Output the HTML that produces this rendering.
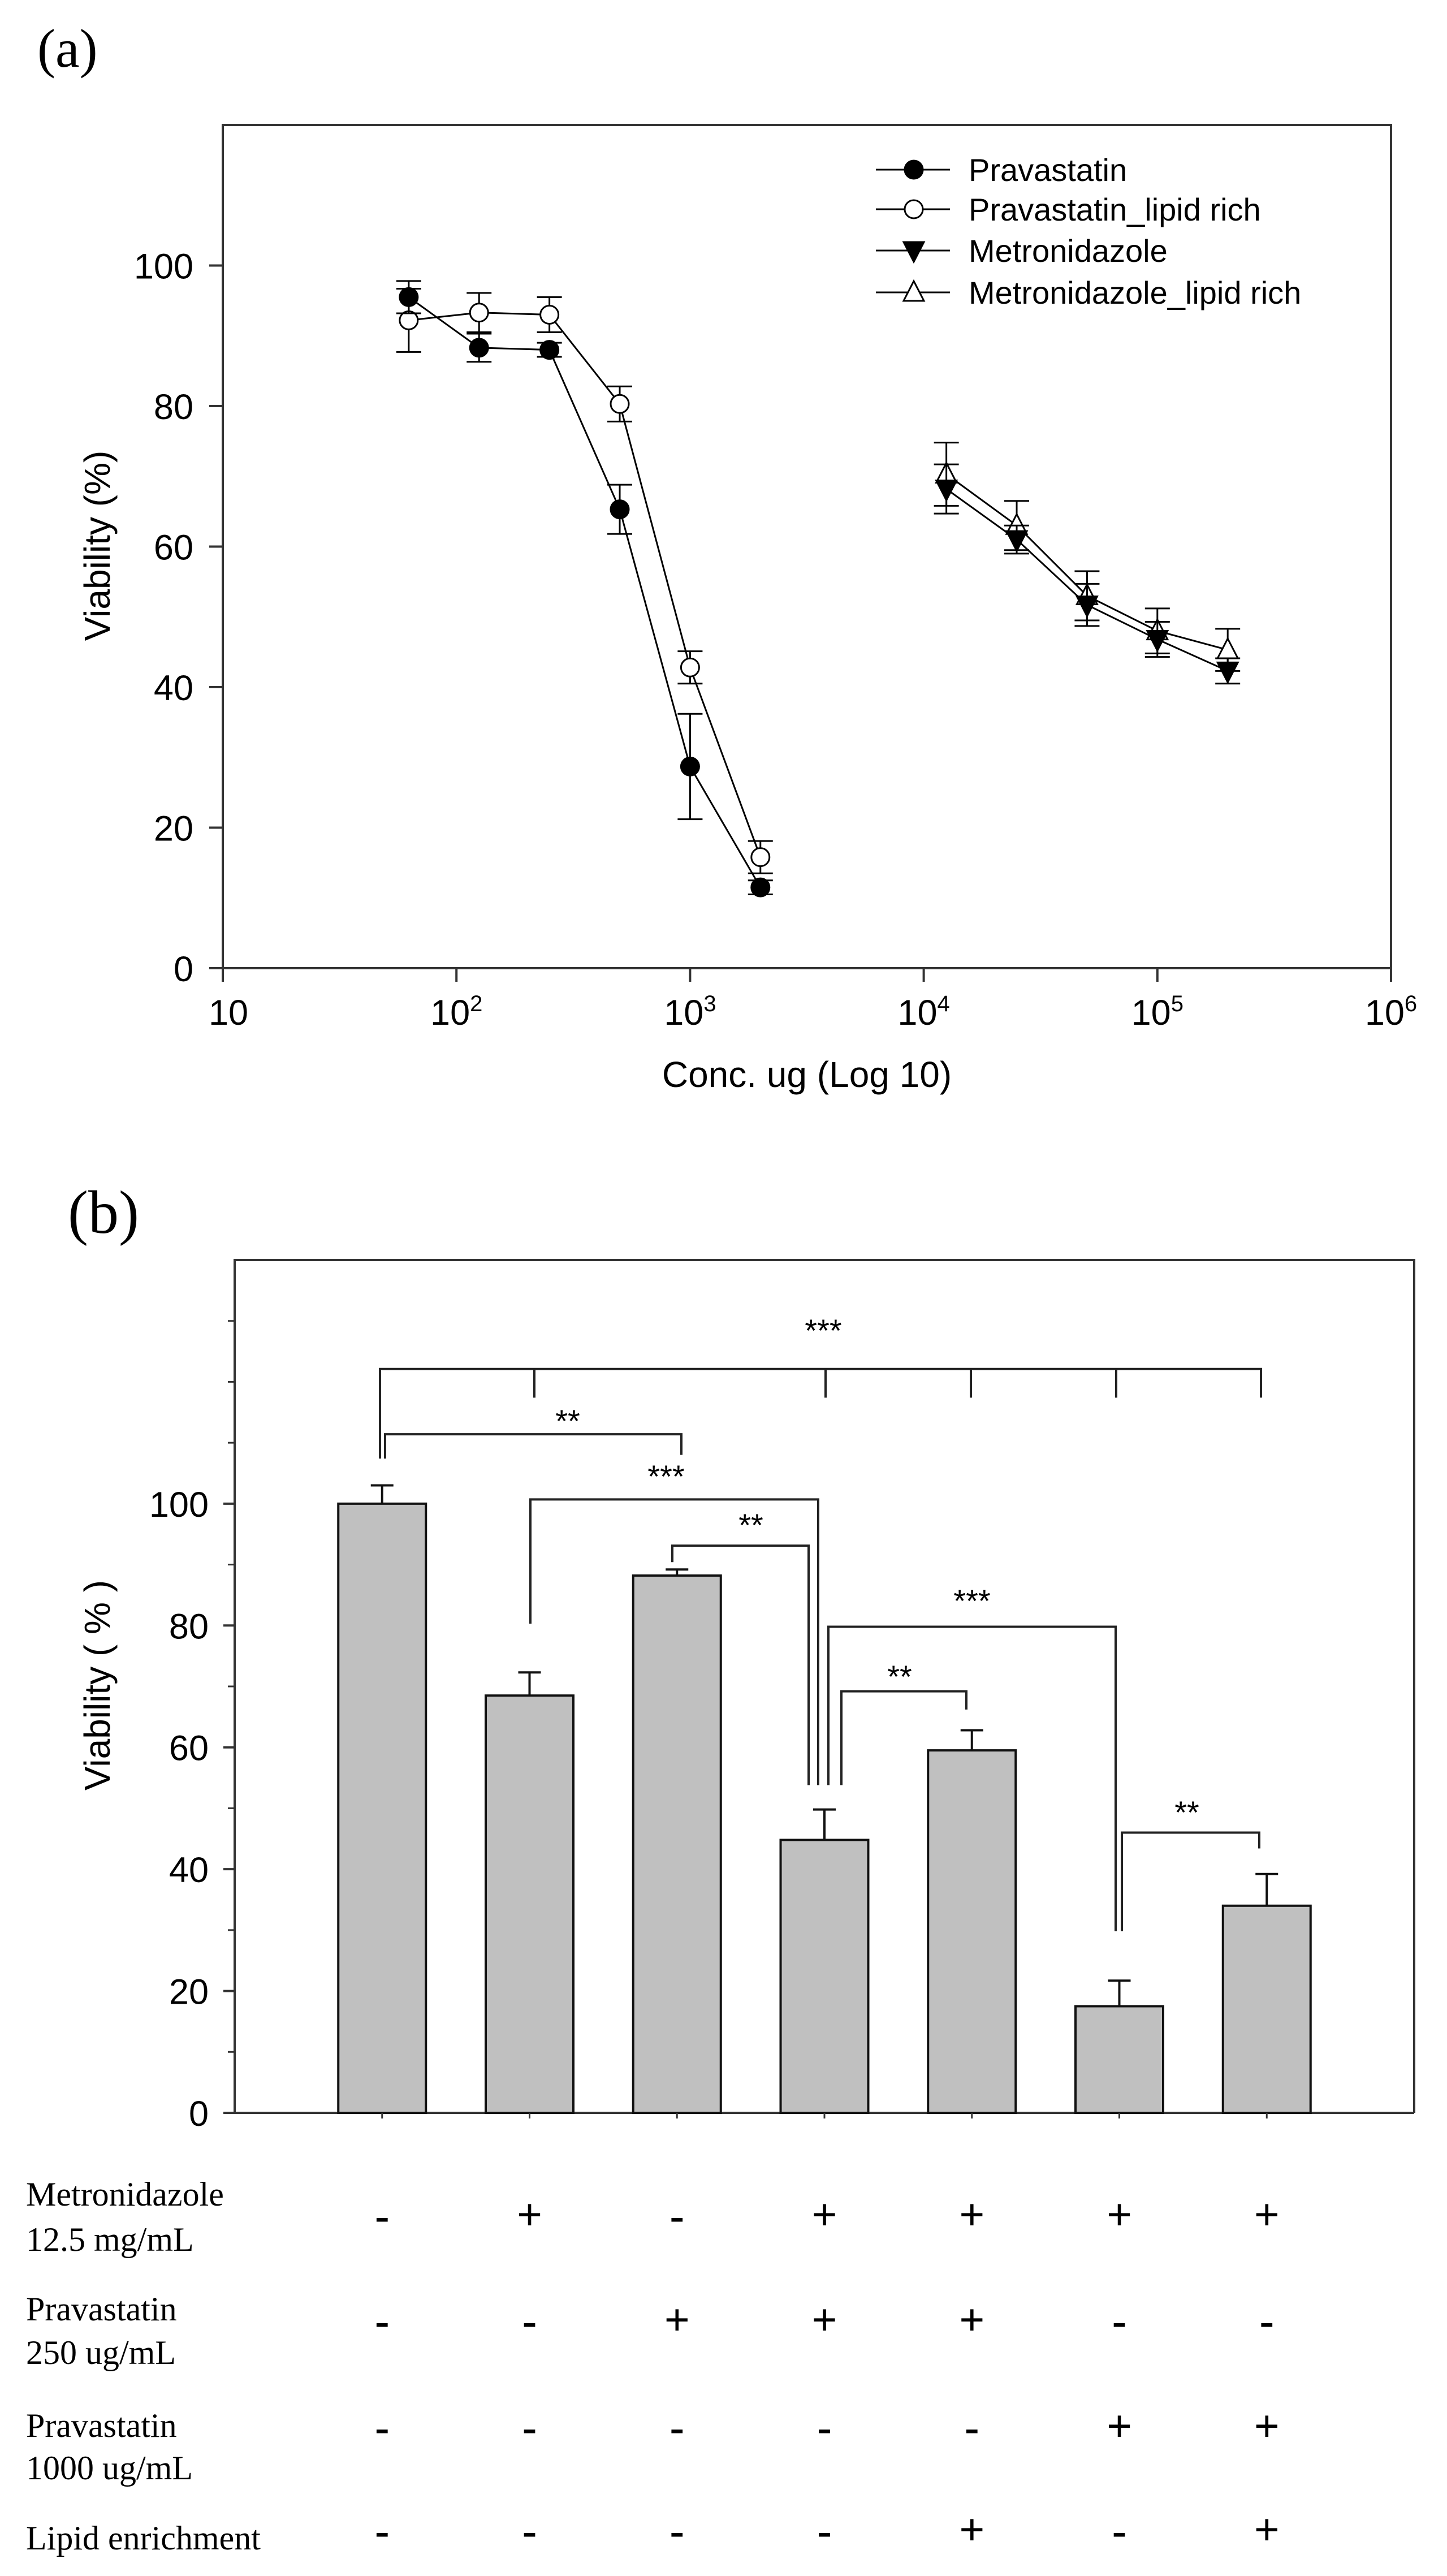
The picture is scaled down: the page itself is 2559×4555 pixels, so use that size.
<!DOCTYPE html>
<html><head><meta charset="utf-8"><style>
html,body{margin:0;padding:0;background:#fff;}
svg{display:block;}
</style></head><body>
<svg id="fig" width="2559" height="4555" viewBox="0 0 2559 4555" xmlns="http://www.w3.org/2000/svg">
<rect width="2559" height="4555" fill="#fff"/>
<text x="66" y="118" font-family="Liberation Serif, serif" font-size="96">(a)</text>
<text x="120" y="2180" font-family="Liberation Serif, serif" font-size="108">(b)</text>
<g id="pa"></g>
<g id="pb"></g>
</svg>
<script>
// ---------- Panel A data ----------
const pravConc = [62.5, 125, 250, 500, 1000, 2000];
const pravVals = [95.5, 88.3, 88.0, 65.3, 28.7, 11.5];
const pravErr = [2.3, 2.0, 1.0, 3.5, 7.5, 1.0];
const pravLipVals = [92.2, 93.3, 93.0, 80.3, 42.8, 15.8];
const pravLipErr = [4.5, 2.8, 2.5, 2.5, 2.3, 2.3];
const metConc = [12500, 25000, 50000, 100000, 200000];
const metVals = [68.2, 61.0, 51.7, 46.8, 42.3];
const metErr = [3.5, 2.0, 3.0, 2.5, 1.8];
const metLipVals = [70.3, 63.0, 53.0, 48.0, 45.3];
const metLipErr = [4.5, 3.5, 3.5, 3.2, 3.0];
const aYTicks = [0, 20, 40, 60, 80, 100];
const aXTicks = [1, 2, 3, 4, 5, 6];
const legendLabels = ["Pravastatin", "Pravastatin_lipid rich", "Metronidazole", "Metronidazole_lipid rich"];

// ---------- Panel B data ----------
const bCats = ["control", "met", "prav250", "met+prav250", "met+prav250+lipid", "met+prav1000", "met+prav1000+lipid"];
const bVals = [100, 68.5, 88.2, 44.8, 59.5, 17.5, 34.0];
const bErr = [3.0, 3.8, 1.0, 5.0, 3.3, 4.2, 5.2];
const bYTicks = [0, 20, 40, 60, 80, 100];
const rowLabels = [["Metronidazole", "12.5 mg/mL"], ["Pravastatin", "250 ug/mL"], ["Pravastatin", "1000 ug/mL"], ["Lipid enrichment"]];
const rowMet = ["-", "+", "-", "+", "+", "+", "+"];
const rowP250 = ["-", "-", "+", "+", "+", "-", "-"];
const rowP1000 = ["-", "-", "-", "-", "-", "+", "+"];
const rowLipid = ["-", "-", "-", "-", "+", "-", "+"];

const NS = "http://www.w3.org/2000/svg";
function mk(parent, tag, attrs, txt) {
  const e = document.createElementNS(NS, tag);
  for (const k in attrs) e.setAttribute(k, attrs[k]);
  if (txt !== undefined) e.textContent = txt;
  parent.appendChild(e);
  return e;
}
const SANS = "Liberation Sans, Arial, sans-serif";
const SERIF = "Liberation Serif, serif";

// ===== Panel A =====
const pa = document.getElementById('pa');
const aL = 394, aR = 2460, aT = 221, aB = 1712;
const ax = v => aL + (Math.log10(v) - 1) / 5 * (aR - aL);
const ay = v => aB - v / 120 * (aB - aT);
let e;
e = mk(pa, 'rect', {x: aL, y: aT, width: aR - aL, height: aB - aT, fill: 'none', stroke: '#333', 'stroke-width': 4});


aYTicks.forEach(t => {
  const y = ay(t);
  e = mk(pa, 'line', {x1: aL - 24, x2: aL, y1: y, y2: y, stroke: '#333', 'stroke-width': 4});
  
  
  e = mk(pa, 'text', {x: aL - 52, y: y + 23, 'text-anchor': 'end', 'font-family': SANS, 'font-size': 63}, String(t));
  
  
});
aXTicks.forEach(p => {
  const x = ax(Math.pow(10, p));
  e = mk(pa, 'line', {x1: x, x2: x, y1: aB, y2: aB + 24, stroke: '#333', 'stroke-width': 4});
  
  
  const t = mk(pa, 'text', {x: x + (p === 1 ? 10 : 0), y: aB + 100, 'text-anchor': 'middle', 'font-family': SANS, 'font-size': 63});
  
  
  if (p === 1) t.textContent = '10';
  else { t.textContent = '10'; mk(t, 'tspan', {dy: -24, 'font-size': 40}, String(p)); }
});
e = mk(pa, 'text', {x: 1427, y: 1922, 'text-anchor': 'middle', 'font-family': SANS, 'font-size': 64}, 'Conc. ug (Log 10)');


e = mk(pa, 'text', {x: 0, y: 0, transform: 'translate(194,965) rotate(-90)', 'text-anchor': 'middle', 'font-family': SANS, 'font-size': 64}, 'Viability (%)');



function marker(g, kind, x, y) {
  let m;
  if (kind === 0) m = mk(g, 'circle', {cx: x, cy: y, r: 16, fill: '#000', stroke: '#000', 'stroke-width': 3});
  else if (kind === 1) m = mk(g, 'circle', {cx: x, cy: y, r: 16, fill: '#fff', stroke: '#000', 'stroke-width': 3});
  else if (kind === 2) m = mk(g, 'polygon', {points: `${x-18},${y-15} ${x+18},${y-15} ${x},${y+20}`, fill: '#000', stroke: '#000', 'stroke-width': 3});
  else m = mk(g, 'polygon', {points: `${x-18},${y+15} ${x+18},${y+15} ${x},${y-20}`, fill: '#fff', stroke: '#000', 'stroke-width': 3});
  return m;
}
function series(conc, vals, errs, kind, name) {
  const g = mk(pa, 'g', {});
  
  
  const pts = conc.map((c, i) => `${ax(c)},${ay(vals[i])}`).join(' ');
  e = mk(g, 'polyline', {points: pts, fill: 'none', stroke: '#000', 'stroke-width': 3});
  
  
  conc.forEach((c, i) => {
    const x = ax(c), y1 = ay(vals[i] + errs[i]), y2 = ay(vals[i] - errs[i]);
    e = mk(g, 'path', {d: `M${x},${y1}V${y2}M${x-22},${y1}H${x+22}M${x-22},${y2}H${x+22}`, stroke: '#000', 'stroke-width': 3, fill: 'none'});
    
    
  });
  conc.forEach((c, i) => {
    e = marker(g, kind, ax(c), ay(vals[i]));
    
    
  });
}
series(pravConc, pravLipVals, pravLipErr, 1, 'pravastatin-lipid-series');
series(pravConc, pravVals, pravErr, 0, 'pravastatin-series');
series(metConc, metLipVals, metLipErr, 3, 'metronidazole-lipid-series');
series(metConc, metVals, metErr, 2, 'metronidazole-series');

const legY = [300, 370, 443, 517];
legendLabels.forEach((lab, i) => {
  const g = mk(pa, 'g', {});
  
  
  mk(g, 'line', {x1: 1549, x2: 1680, y1: legY[i], y2: legY[i], stroke: '#000', 'stroke-width': 3});
  marker(g, i, 1616, legY[i]);
  mk(g, 'text', {x: 1713, y: legY[i] + 20, 'font-family': SANS, 'font-size': 56}, lab);
});

// ===== Panel B =====
const pb = document.getElementById('pb');
const bL = 415, bR = 2501, bT = 2228, bB = 3736;
const by = v => bB - v / 140 * (bB - bT);
const bx = i => bL + (i + 1) * (bR - bL) / 8;
const barW = 155;
e = mk(pb, 'path', {d: `M${bL},${bB}V${bT}H${bR}V${bB}`, fill: 'none', stroke: '#333', 'stroke-width': 4});


e = mk(pb, 'line', {x1: 398, x2: bR, y1: bB, y2: bB, stroke: '#333', 'stroke-width': 4});


for (let v = 10; v < 140; v += 10) {
  if (v % 20 === 0 && v <= 100) continue;
  e = mk(pb, 'line', {x1: bL - 12, x2: bL, y1: by(v), y2: by(v), stroke: '#333', 'stroke-width': 3});
  
  
}
bYTicks.forEach(t => {
  const y = by(t);
  e = mk(pb, 'line', {x1: bL - 20, x2: bL, y1: y, y2: y, stroke: '#333', 'stroke-width': 4});
  
  
  e = mk(pb, 'text', {x: 369, y: y + 23, 'text-anchor': 'end', 'font-family': SANS, 'font-size': 63}, String(t));
  
  
});
e = mk(pb, 'text', {x: 0, y: 0, transform: 'translate(194,2980) rotate(-90)', 'text-anchor': 'middle', 'font-family': SANS, 'font-size': 64}, 'Viability ( % )');



bCats.forEach((c, i) => {
  const x = bx(i);
  e = mk(pb, 'rect', {x: x - barW / 2, y: by(bVals[i]), width: barW, height: bB - by(bVals[i]), fill: '#c0c0c0', stroke: '#111', 'stroke-width': 4});
  
  
  const yt = by(bVals[i] + bErr[i]);
  e = mk(pb, 'path', {d: `M${x},${by(bVals[i])}V${yt}M${x-20},${yt}H${x+20}`, stroke: '#111', 'stroke-width': 4, fill: 'none'});
  
  
  e = mk(pb, 'line', {x1: x, x2: x, y1: bB, y2: bB + 10, stroke: '#333', 'stroke-width': 3});
  
  
});

function bracket(xl, xr, lv, le, re, lab, lx, ly) {
  const g = mk(pb, 'g', {});
  
  
  mk(g, 'path', {d: `M${xl},${by(le)}V${by(lv)}H${xr}V${by(re)}`, fill: 'none', stroke: '#222', 'stroke-width': 4});
  mk(g, 'text', {x: lx, y: ly, 'text-anchor': 'middle', 'font-family': SANS, 'font-size': 56}, lab);
  return g;
}
{
  const g = bracket(672, 2230, 122.1, 107.4, 117.4, '***', 1456, 2372);
  [945, 1460, 1717, 1974].forEach(x => mk(g, 'line', {x1: x, x2: x, y1: by(122.1), y2: by(117.4), stroke: '#222', 'stroke-width': 4}));
}
bracket(681, 1205, 111.4, 107.4, 108.0, '**', 1004, 2532);
bracket(938, 1447, 100.7, 80.3, 53.8, '***', 1178, 2630);
bracket(1189, 1430, 93.1, 90.4, 53.8, '**', 1328, 2716);
bracket(1465, 1973, 79.8, 53.8, 29.8, '***', 1719, 2850);
bracket(1488, 1709, 69.2, 53.8, 66.2, '**', 1591, 2984);
bracket(1984, 2227, 46.0, 29.8, 43.4, '**', 2099, 3224);

const rowY = [3919, 4105, 4293, 4476];
const rows = [rowMet, rowP250, rowP1000, rowLipid];
const labY = [[3900, 3980], [4103, 4180], [4309, 4384], [4508]];
rowLabels.forEach((ls, r) => {
  ls.forEach((l, k) => {
    e = mk(pb, 'text', {x: 46, y: labY[r][k], 'font-family': SERIF, 'font-size': 60}, l);
    
    
  });
  rows[r].forEach((s, i) => {
    e = mk(pb, 'text', {x: bx(i), y: rowY[r] + 24, 'text-anchor': 'middle', 'font-family': SERIF, 'font-weight': 'bold', 'font-size': s === '+' ? 80 : 76}, s);
    
    
  });
});
</script>
</body></html>
